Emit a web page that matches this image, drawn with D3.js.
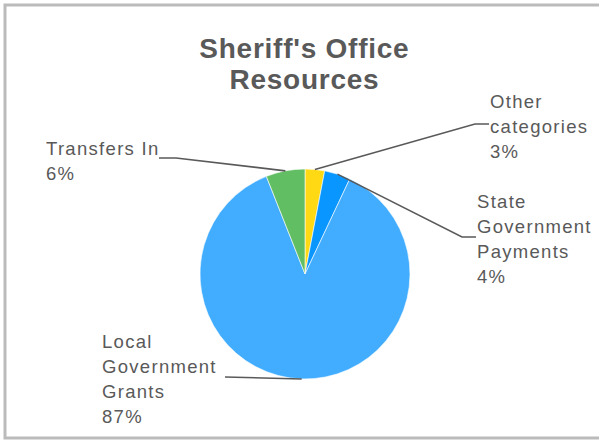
<!DOCTYPE html>
<html>
<head>
<meta charset="utf-8">
<script src="https://cdn.jsdelivr.net/npm/d3@7"></script>
<style>
  html, body { margin: 0; padding: 0; background: #fff; }
  svg { display: block; }
</style>
</head>
<body>
<svg id="chart" width="599" height="441"></svg>
<script>
// Resource categories, in drawing order (clockwise from 12 o'clock)
const categories = ["Other categories", "State Government Payments", "Local Government Grants", "Transfers In"];
const shares = [3, 4, 87, 6];
const sliceColors = ["#FFDA14", "#0A96FF", "#42ADFF", "#62BE63"];

// Wrapped label lines for each category
const labelLines = [
  ["Other", "categories"],
  ["State", "Government", "Payments"],
  ["Local", "Government", "Grants"],
  ["Transfers In"]
];

// Label placement: text anchor (x, first baseline) and leader-line path points after the slice edge
const labelLayout = [
  { x: 490, y: 107.5, leader: [[475, 124], [489, 124]] },
  { x: 477, y: 207.5, leader: [[462, 237], [476, 237]] },
  { x: 102, y: 347.5, leader: [[225, 377]] },
  { x: 46,  y: 155,   leader: [[176, 158], [159, 158]] }
];

const W = 599, H = 441;
const cx = 305, cy = 274, radius = 105;
const textColor = "#595959";
const fontFamily = "'Liberation Sans', Arial, Helvetica, sans-serif";

const svg = d3.select("#chart");

// Outer frame
svg.append("rect")
  .attr("x", 5).attr("y", 5)
  .attr("width", W + 10).attr("height", H - 8)
  .attr("fill", "#fff")
  .attr("stroke", "#BBBBBB")
  .attr("stroke-width", 3);

// Title
const titleSpacing = 0.75;
const title = svg.append("text")
  .attr("text-anchor", "middle")
  .attr("font-family", fontFamily)
  .attr("font-size", 28)
  .attr("font-weight", "bold")
  .attr("letter-spacing", titleSpacing)
  .attr("fill", textColor);
title.append("tspan").attr("x", cx - 1 + titleSpacing / 2).attr("y", 57.5).text("Sheriff's Office");
title.append("tspan").attr("x", cx - 1 + titleSpacing / 2).attr("y", 88.5).text("Resources");

// Pie
const data = categories.map((c, i) => ({ name: c, value: shares[i], color: sliceColors[i], i }));
const pie = d3.pie().value(d => d.value).sort(null);
const arcs = pie(data);
const arc = d3.arc().innerRadius(0).outerRadius(radius);
const edge = d3.arc().innerRadius(radius).outerRadius(radius);

const g = svg.append("g").attr("transform", `translate(${cx},${cy})`);
g.selectAll("path.slice")
  .data(arcs)
  .join("path")
  .attr("class", "slice")
  .attr("d", arc)
  .attr("fill", d => d.data.color)
  .attr("stroke", "#ffffff")
  .attr("stroke-width", 0.6);

// Leader lines from each slice's outer edge to its label
const line = d3.line();
svg.selectAll("path.leader")
  .data(arcs)
  .join("path")
  .attr("class", "leader")
  .attr("d", d => {
    const [ex, ey] = edge.centroid(d);
    const pts = [[cx + ex, cy + ey], ...labelLayout[d.data.i].leader];
    return line(pts);
  })
  .attr("fill", "none")
  .attr("stroke", "#595959")
  .attr("stroke-width", 1.6);

// Labels: category name lines then the percentage
const lineH = 25.3;
const labels = svg.selectAll("text.label")
  .data(arcs)
  .join("text")
  .attr("class", "label")
  .attr("font-family", fontFamily)
  .attr("font-size", 18.5)
  .attr("letter-spacing", 1.3)
  .attr("fill", textColor);

labels.each(function(d) {
  const lay = labelLayout[d.data.i];
  const lines = [...labelLines[d.data.i], `${d.data.value}%`];
  d3.select(this).selectAll("tspan")
    .data(lines)
    .join("tspan")
    .attr("x", lay.x)
    .attr("y", (s, k) => lay.y + k * lineH)
    .text(s => s);
});
</script>
</body>
</html>
